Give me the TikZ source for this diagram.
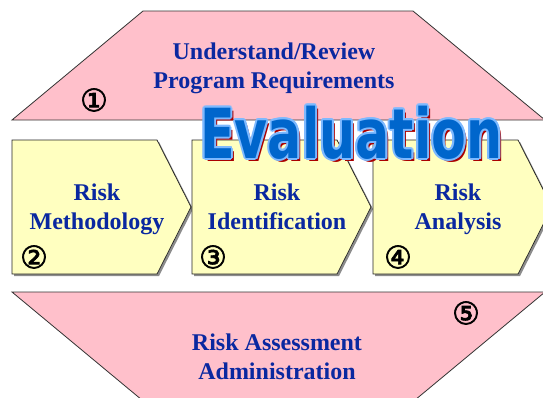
\documentclass[tikz,border=0pt]{standalone}
\usepackage{fontspec}
\usepackage{graphicx}
\usepackage{tikz}
\usetikzlibrary{calc}
\usepackage{xcolor}
\setmainfont{Liberation Serif}
\newfontfamily\circfont[FakeBold=2]{DejaVu Sans}
\newfontfamily\evalfont{DejaVu Sans}

\definecolor{boxpink}{RGB}{255,192,203}
\definecolor{boxyellow}{RGB}{255,255,192}
\definecolor{textblue}{RGB}{10,40,160}
\definecolor{evalblue}{RGB}{0,102,204}
\definecolor{evalrim}{RGB}{125,185,255}
\definecolor{evalshade}{RGB}{170,0,0}

\begin{document}
\begin{tikzpicture}[x=1pt,y=-1pt,
	pinkbox/.style={
		fill=boxpink,
		draw=black!80,
		line width=.8pt
	},
	yellowbox/.style={
		fill=boxyellow,
		draw=black!85,
		line width=.7pt
	},
	boxshadow/.style={fill=black!45},
	steptext/.style={
		text=textblue,
		font=\fontsize{24}{28.5}\selectfont\bfseries,
		align=center,
		inner sep=0pt,
		anchor=north
	},
	num/.style={font=\circfont\fontsize{31}{31}\selectfont, inner sep=0pt},
	evaltext/.style={
		font=\evalfont\bfseries\fontsize{69}{69}\selectfont,
		inner sep=0pt,
		anchor=base west
	}]

	\useasboundingbox (0,0) rectangle (543,397);
	\clip (0,0) rectangle (543,397);

	% upper and lower trapezoids
	\draw[pinkbox] (12,120) -- (143,11) -- (413,11) -- (545,120) -- cycle;
	\draw[pinkbox] (12,292) -- (545,292) -- (403,410) -- (154,410) -- cycle;

	\node[steptext] (review) at (274,43) {Understand/Review\\Program Requirements};
	\node[steptext] (admin) at (277,334) {Risk Assessment\\Administration};

	% the three steps
	\foreach \l/\n/\t in {12/2/Methodology, 192/3/Identification, 373/4/Analysis} {
		\fill[boxshadow] (\l+2,142) -- (\l+147,142) -- (\l+181,209) -- (\l+147,276) -- (\l+2,276) -- cycle;
		\draw[yellowbox] (\l,140) -- (\l+145,140) -- (\l+179,207) -- (\l+145,274) -- (\l,274) -- cycle;
		\node[steptext] (step\n) at (\l+85,184) {Risk\\\t};
	}

	% circled numbers
	\node[num] (one) at (94,100) {①};
	\node[num] (two) at (34,257) {②};
	\node[num] (three) at (213,257) {③};
	\node[num] (four) at (398,257) {④};
	\node[num] (five) at (466,313) {⑤};

	% title
	\node[evaltext, text=evalshade] (evalshadow) at (203,161) {\scalebox{0.735}[1]{Evaluation}};
	\foreach \a in {0,30,...,330}
		\node[evaltext, text=evalrim] (evalrim\a) at ($(200,158)+(\a:2)$) {\scalebox{0.735}[1]{Evaluation}};
	\node[evaltext, text=evalblue] (eval) at (200,158) {\scalebox{0.735}[1]{Evaluation}};
\end{tikzpicture}
\end{document}
